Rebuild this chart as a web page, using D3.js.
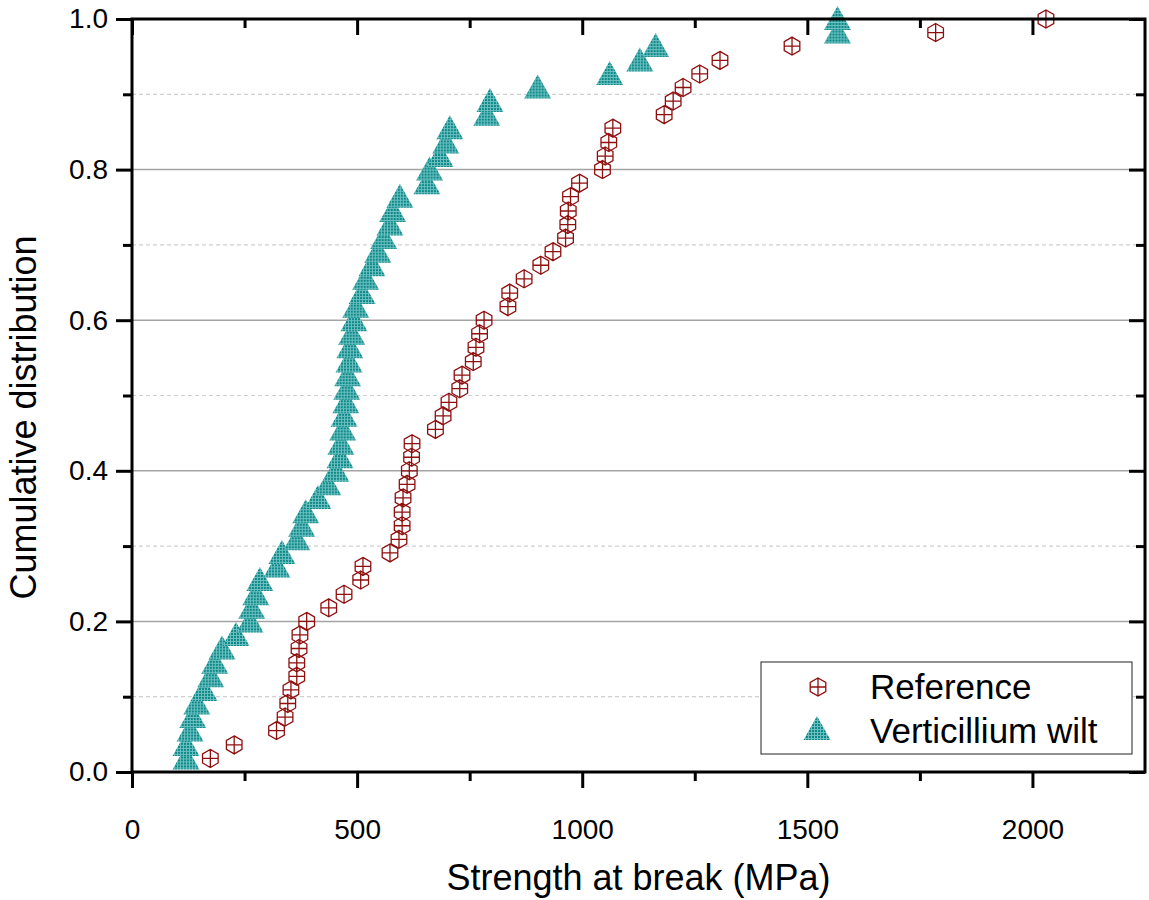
<!DOCTYPE html>
<html>
<head>
<meta charset="utf-8">
<script src="https://cdn.jsdelivr.net/npm/d3@7"></script>
<style>
  body { margin: 0; background: #fff; }
  text { font-family: "Liberation Sans", Arial, sans-serif; fill: #000; }
</style>
</head>
<body>
<script>
// values
const refStrength = [174, 227, 321, 340, 346, 353, 366, 366, 371, 373, 388, 437, 471, 508, 513,
  573, 593, 600, 600, 602, 611, 616, 621, 622, 674, 691, 704, 728, 733, 758, 764, 772, 782,
  835, 839, 871, 908, 935, 963, 968, 969, 974, 994, 1045, 1051, 1059, 1068, 1182, 1202, 1224,
  1261, 1306, 1466, 1785, 2030];
const refCum = [0.018, 0.036, 0.055, 0.073, 0.091, 0.109, 0.127, 0.145, 0.164, 0.182, 0.2,
  0.218, 0.236, 0.255, 0.273, 0.291, 0.309, 0.327, 0.345, 0.364, 0.382, 0.4, 0.418, 0.436,
  0.455, 0.473, 0.491, 0.509, 0.527, 0.545, 0.564, 0.582, 0.6, 0.618, 0.636, 0.655, 0.673,
  0.691, 0.709, 0.727, 0.745, 0.764, 0.782, 0.8, 0.818, 0.836, 0.855, 0.873, 0.891, 0.909,
  0.927, 0.945, 0.964, 0.982, 1.0];

const wiltStrength = [120, 120, 129, 135, 144, 160, 175, 184, 200, 231, 262, 266, 275, 284,
  322, 333, 366, 377, 386, 413, 435, 453, 462, 464, 468, 471, 475, 477, 479, 482, 484, 488,
  493, 497, 511, 519, 533, 546, 559, 573, 579, 595, 655, 661, 684, 697, 706, 788, 795, 901,
  1061, 1128, 1163, 1567, 1567];
const wiltCum = [0.018, 0.036, 0.055, 0.073, 0.091, 0.109, 0.127, 0.145, 0.164, 0.182, 0.2,
  0.218, 0.236, 0.255, 0.273, 0.291, 0.309, 0.327, 0.345, 0.364, 0.382, 0.4, 0.418, 0.436,
  0.455, 0.473, 0.491, 0.509, 0.527, 0.545, 0.564, 0.582, 0.6, 0.618, 0.636, 0.655, 0.673,
  0.691, 0.709, 0.727, 0.745, 0.764, 0.782, 0.8, 0.818, 0.836, 0.855, 0.873, 0.891, 0.909,
  0.927, 0.945, 0.964, 0.982, 1.0];

const xMajor = [0, 500, 1000, 1500, 2000];
const xMinor = [250, 750, 1250, 1750];
const yMajor = [0, 0.2, 0.4, 0.6, 0.8, 1.0];
const yMinor = [0.1, 0.3, 0.5, 0.7, 0.9];
const seriesNames = ["Reference", "Verticillium wilt"];

const W = 1149, H = 900;
const margin = {top: 19, right: 4, bottom: 128, left: 132};
const width = W - margin.left - margin.right,
      height = H - margin.top - margin.bottom;

const svg = d3.select("body").append("svg")
    .attr("width", W)
    .attr("height", H);

// crosshatch fill of the triangles
const defs = svg.append("defs");
const pat = defs.append("pattern")
    .attr("id", "hatch")
    .attr("width", 3).attr("height", 3)
    .attr("patternUnits", "userSpaceOnUse");
pat.append("rect").attr("width", 3).attr("height", 3).attr("fill", "#0e8888");
pat.append("path").attr("d", "M0 0.5H3M0.5 0V3")
    .attr("stroke", "#6cc0c0").attr("stroke-width", 1);

const g = svg.append("g")
    .attr("transform", "translate(" + margin.left + "," + margin.top + ")");

const x = d3.scaleLinear().domain([0, 2250]).range([0, width]);
const y = d3.scaleLinear().domain([0, 1]).range([height, 0]);

// grid lines
g.append("g").selectAll("line")
    .data(yMinor)
    .join("line")
    .attr("x1", 0).attr("x2", width)
    .attr("y1", d => y(d)).attr("y2", d => y(d))
    .attr("stroke", "#cfcfcf")
    .attr("stroke-width", 1.2)
    .attr("stroke-dasharray", "4,3");
g.append("g").selectAll("line")
    .data(yMajor.filter(d => d > 0 && d < 1))
    .join("line")
    .attr("x1", 0).attr("x2", width)
    .attr("y1", d => y(d)).attr("y2", d => y(d))
    .attr("stroke", "#a3a3a3")
    .attr("stroke-width", 1.5);

// markers
const R = 9;
const hexPts = d3.range(6).map(k => {
    const a = (-90 + 60 * k) * Math.PI / 180;
    return [R * Math.cos(a), R * Math.sin(a)];
});
const hexPath = "M" + hexPts.map(p => p.join(",")).join("L") + "Z"
    + "M0," + (-R) + "V" + R + "M" + (-R * 0.866) + ",0H" + (R * 0.866);
const triPath = "M0,-13L13.5,11L-13.5,11Z";

const refData = refStrength.map((v, i) => ({s: v, c: refCum[i]}));
const wiltData = wiltStrength.map((v, i) => ({s: v, c: wiltCum[i]}));

g.append("g").selectAll("path")
    .data(refData)
    .join("path")
    .attr("transform", d => "translate(" + x(d.s) + "," + y(d.c) + ")")
    .attr("d", hexPath)
    .attr("fill", "none")
    .attr("stroke", "#8f0f0f")
    .attr("stroke-width", 1.3);

g.append("g").selectAll("path")
    .data(wiltData)
    .join("path")
    .attr("transform", d => "translate(" + x(d.s) + "," + y(d.c) + ")")
    .attr("d", triPath)
    .attr("fill", "url(#hatch)");

// axes
function styleAxis(sel) {
    sel.select(".domain").remove();
    sel.selectAll("line").attr("stroke", "#000").attr("stroke-width", 3);
    sel.selectAll("text").style("font-size", "28px");
}

g.append("g")
    .attr("transform", "translate(0," + height + ")")
    .call(d3.axisBottom(x).tickValues(xMajor).tickSize(16).tickPadding(31).tickFormat(d3.format("d")))
    .call(styleAxis);
g.append("g")
    .attr("transform", "translate(0," + height + ")")
    .call(d3.axisBottom(x).tickValues(xMinor).tickSize(9).tickFormat(""))
    .call(styleAxis);
g.append("g")
    .call(d3.axisTop(x).tickValues(xMajor).tickSize(-16).tickFormat(""))
    .call(styleAxis);
g.append("g")
    .call(d3.axisTop(x).tickValues(xMinor).tickSize(-9).tickFormat(""))
    .call(styleAxis);

g.append("g")
    .call(d3.axisLeft(y).tickValues(yMajor).tickSize(16).tickPadding(8).tickFormat(d3.format(".1f")))
    .call(styleAxis);
g.append("g")
    .call(d3.axisLeft(y).tickValues(yMinor).tickSize(9).tickFormat(""))
    .call(styleAxis);
g.append("g")
    .attr("transform", "translate(" + width + ",0)")
    .call(d3.axisRight(y).tickValues(yMajor).tickSize(-16).tickFormat(""))
    .call(styleAxis);
g.append("g")
    .attr("transform", "translate(" + width + ",0)")
    .call(d3.axisRight(y).tickValues(yMinor).tickSize(-9).tickFormat(""))
    .call(styleAxis);

// frame
g.append("rect")
    .attr("width", width).attr("height", height)
    .attr("fill", "none")
    .attr("stroke", "#000")
    .attr("stroke-width", 3);

// axis titles
g.append("text")
    .attr("x", width / 2)
    .attr("y", height + 118)
    .attr("text-anchor", "middle")
    .style("font-size", "36px")
    .text("Strength at break (MPa)");
g.append("text")
    .attr("transform", "translate(-96," + (height / 2 + 22) + ") rotate(-90)")
    .attr("text-anchor", "middle")
    .style("font-size", "36px")
    .text("Cumulative distribution");

// legend
const lg = svg.append("g").attr("transform", "translate(761,662)");
lg.append("rect")
    .attr("width", 371).attr("height", 92)
    .attr("fill", "#fff")
    .attr("stroke", "#222")
    .attr("stroke-width", 1);
lg.append("path")
    .attr("transform", "translate(57,25)")
    .attr("d", hexPath)
    .attr("fill", "none")
    .attr("stroke", "#8f0f0f")
    .attr("stroke-width", 1.3);
lg.append("path")
    .attr("transform", "translate(56,67)")
    .attr("d", triPath)
    .attr("fill", "url(#hatch)");
lg.selectAll("text.leg")
    .data(seriesNames)
    .join("text")
    .attr("class", "leg")
    .attr("x", 109)
    .attr("y", (d, i) => 37 + i * 44)
    .style("font-size", "35px")
    .text(d => d);
</script>
</body>
</html>
